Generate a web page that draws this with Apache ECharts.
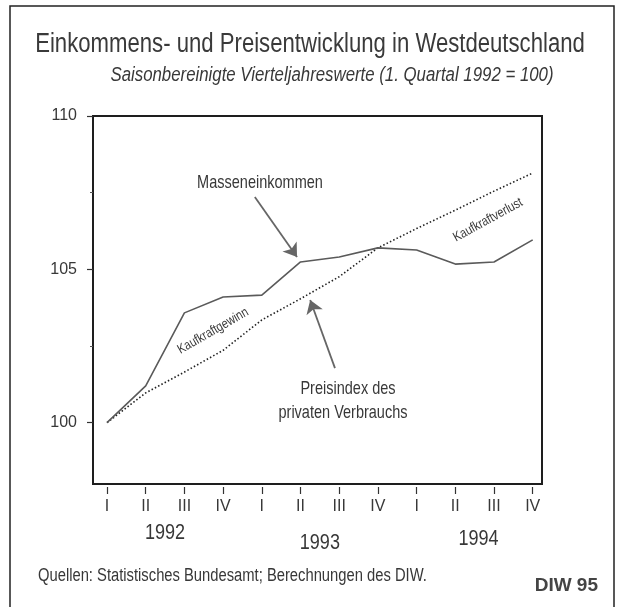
<!DOCTYPE html>
<html>
<head>
<meta charset="utf-8">
<script src="https://cdn.jsdelivr.net/npm/echarts@6/dist/echarts.min.js"></script>
<style>
html,body{margin:0;padding:0;background:#fff;}
#c{width:621px;height:607px;}
</style>
</head>
<body>
<div id="c"></div>
<script>
// ---- data ----
var quarterLabels = ['I','II','III','IV','I','II','III','IV','I','II','III','IV'];
var quarterIndex = [0,1,2,3,4,5,6,7,8,9,10,11];
var yearLabels = ['1992','1993','1994'];
var yearPositions = [1.5, 5.5, 9.6];
var masseneinkommen = [100.0, 101.2, 103.58, 104.1, 104.16, 105.24, 105.4, 105.7, 105.63, 105.17, 105.24, 105.96];
var preisindex = [100.0, 100.97, 101.65, 102.36, 103.35, 104.04, 104.76, 105.7, 106.33, 106.93, 107.55, 108.14];
var yTickValues = [100, 105, 110];
var yMinorTicks = [102.5, 107.5];

var FONT = '"Liberation Sans", Arial, sans-serif';
var TXT = '#383838';
var NARROW = 0.82;

function pairs(arr){ return arr.map(function(v,i){ return [quarterIndex[i], v]; }); }

function ntext(x, y, text, size, opts){
  opts = opts || {};
  return {
    type: 'text', x: x, y: y, scaleX: NARROW, rotation: opts.rotation || 0, silent: true,
    style: {text: text, font: (opts.style || '') + ' ' + size + 'px ' + FONT, fill: opts.fill || TXT,
      align: opts.align || 'center', verticalAlign: 'middle'}
  };
}

var chart = echarts.init(document.getElementById('c'), null, {renderer:'canvas'});
var option = {
  backgroundColor: '#ffffff',
  animation: false,
  grid: {left: 93, top: 116, right: 79, bottom: 123, show: true, borderColor: '#1e1e1e', borderWidth: 2, backgroundColor: 'transparent'},
  xAxis: [{
    type: 'value', min: -0.362, max: 11.24, position: 'bottom', offset: 3,
    axisLine: {show: false}, splitLine: {show: false},
    axisTick: {show: true, customValues: quarterIndex, length: 7, lineStyle: {color: '#333', width: 1.2}},
    axisLabel: {customValues: quarterIndex, margin: 12,
      formatter: function(v){ return quarterLabels[Math.round(v)]; },
      fontFamily: FONT, fontSize: 16, color: TXT}
  }],
  yAxis: [{
    type: 'value', min: 98, max: 110, position: 'left',
    axisLine: {show: true, onZero: false, lineStyle: {color: '#1e1e1e', width: 2}}, splitLine: {show: false},
    axisTick: {show: true, customValues: yTickValues, length: 6, lineStyle: {color: '#333', width: 1.2}},
    axisLabel: {customValues: yTickValues, margin: 16, fontFamily: FONT, fontSize: 16, color: TXT}
  },{
    type: 'value', min: 98, max: 110, position: 'left',
    axisLine: {show: false, onZero: false}, splitLine: {show: false},
    axisTick: {show: true, customValues: yMinorTicks, length: 3, lineStyle: {color: '#555', width: 1}},
    axisLabel: {show: false}
  }],
  series: [{
    name: 'Masseneinkommen', type: 'line', data: pairs(masseneinkommen),
    symbol: 'none', lineStyle: {color: '#5a5a5a', width: 1.6}, z: 3,
    markLine: {
      silent: true, symbol: ['none','arrow'], symbolSize: 13,
      lineStyle: {color: '#666', width: 1.8, type: 'solid'}, label: {show: false},
      data: [[{coord: [3.82, 107.36]}, {coord: [4.91, 105.4]}]]
    }
  },{
    name: 'Preisindex', type: 'line', data: pairs(preisindex),
    symbol: 'none', lineStyle: {color: '#222', width: 1.6, type: [1.5, 2.2]}, z: 2,
    markLine: {
      silent: true, symbol: ['none','arrow'], symbolSize: 13,
      lineStyle: {color: '#666', width: 1.8, type: 'solid'}, label: {show: false},
      data: [[{coord: [5.89, 101.78]}, {coord: [5.25, 104.0]}]]
    }
  }]
};
chart.setOption(option);

var g = [
  {type: 'rect', x: 10, y: 6, shape: {width: 604, height: 612}, style: {fill: 'none', stroke: '#222', lineWidth: 1.5}, silent: true},
  ntext(310, 45, 'Einkommens- und Preisentwicklung in Westdeutschland', 27, {fill: '#3a3a3a'}),
  ntext(332, 75, 'Saisonbereinigte Vierteljahreswerte (1. Quartal 1992 = 100)', 20.5, {style: 'italic'}),
  ntext(260, 183, 'Masseneinkommen', 17.7),
  ntext(348, 389, 'Preisindex des', 17.7),
  ntext(343, 413, 'privaten Verbrauchs', 17.7),
  ntext(213, 331, 'Kaufkraftgewinn', 13.5, {rotation: 0.52}),
  ntext(488, 220, 'Kaufkraftverlust', 13.5, {rotation: 0.5}),
  ntext(38, 576, 'Quellen: Statistisches Bundesamt; Berechnungen des DIW.', 18, {align: 'left'}),
  {type: 'text', x: 598, y: 586, silent: true, style: {text: 'DIW 95', font: 'bold 19px ' + FONT, fill: '#444', align: 'right', verticalAlign: 'middle'}}
];
var yearYOffsets = [0, 10, 6];
yearPositions.forEach(function(v, i){
  var px = chart.convertToPixel({xAxisIndex: 0}, v);
  g.push(ntext(px, 533 + yearYOffsets[i], yearLabels[i], 22));
});
chart.setOption({graphic: g});
</script>
</body>
</html>
